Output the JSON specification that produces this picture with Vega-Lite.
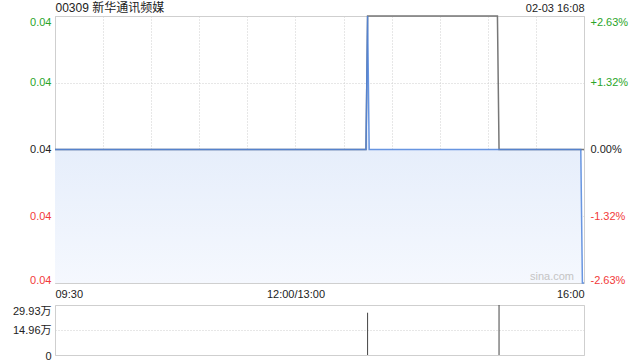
{
  "$schema": "https://vega.github.io/schema/vega-lite/v6.json",
  "padding": {"left": 11, "top": 0, "right": 0, "bottom": 0},
  "bounds": "flush",
  "spacing": 22,
  "background": "white",
  "config": {
    "font": "Liberation Sans, Noto Sans CJK SC",
    "view": {"stroke": "#cfcfcf", "strokeWidth": 1},
    "axis": {
      "labelFont": "Liberation Sans, Noto Sans CJK SC",
      "labelFontSize": 11,
      "labelColor": "#222222",
      "ticks": false,
      "domain": false,
      "title": null,
      "gridColor": "#cfcfcf",
      "gridDash": [1, 2],
      "gridWidth": 1,
      "labelOverlap": false,
      "labelFlush": false
    }
  },
  "vconcat": [
    {
      "width": 529,
      "height": 267,
      "data": {
        "values": [
          {"minute": 0, "price": 0.038, "avg": 0.038},
          {"minute": 194, "price": 0.038, "avg": 0.038},
          {"minute": 195, "price": 0.039, "avg": 0.039},
          {"minute": 196, "price": 0.038, "avg": 0.039},
          {"minute": 276, "price": 0.038, "avg": 0.039},
          {"minute": 277, "price": 0.038, "avg": 0.038},
          {"minute": 328, "price": 0.038, "avg": 0.038},
          {"minute": 329, "price": 0.037, "avg": 0.038},
          {"minute": 330, "price": 0.037, "avg": 0.038}
        ]
      },
      "resolve": {"axis": {"x": "independent", "y": "independent"}},
      "layer": [
        {
          "mark": {
            "type": "area",
            "color": {
              "gradient": "linear",
              "x1": 0, "y1": 0, "x2": 0, "y2": 1,
              "stops": [
                {"offset": 0, "color": "#dbe6fa"},
                {"offset": 0.5, "color": "#e6eefb"},
                {"offset": 1, "color": "#f5f8fe"}
              ]
            }
          },
          "encoding": {
            "x": {
              "field": "minute", "type": "quantitative",
              "scale": {"domain": [0, 330], "nice": false, "zero": false},
              "axis": {
                "orient": "bottom",
                "values": [0, 30, 60, 90, 120, 150, 180, 210, 240, 270, 300, 330],
                "grid": true,
                "labelPadding": 5,
                "labelExpr": "datum.value == 0 ? '09:30' : datum.value == 150 ? '12:00/13:00' : datum.value == 330 ? '16:00' : ''",
                "labelAlign": {"condition": [{"test": "datum.value == 0", "value": "left"}, {"test": "datum.value == 330", "value": "right"}], "value": "center"}
              }
            },
            "y": {
              "field": "price", "type": "quantitative",
              "scale": {"domain": [0.037, 0.039], "nice": false, "zero": false},
              "axis": {
                "orient": "left",
                "values": [0.037, 0.0375, 0.038, 0.0385, 0.039],
                "format": ".2f",
                "grid": true,
                "labelPadding": 4,
                "labelColor": {"condition": [{"test": "datum.value > 0.03801", "value": "#2aa52a"}, {"test": "datum.value < 0.03799", "value": "#f23a3a"}], "value": "#222222"},
                "labelBaseline": {"condition": [{"test": "datum.value > 0.03899", "value": "top"}, {"test": "datum.value < 0.03701", "value": "alphabetic"}], "value": "middle"}
              }
            },
            "y2": {"datum": 0.037}
          }
        },
        {
          "mark": {"type": "line", "color": "#777777", "strokeWidth": 1.5},
          "encoding": {
            "x": {
              "field": "minute", "type": "quantitative",
              "scale": {"domain": [0, 330], "nice": false, "zero": false},
              "axis": {
                "orient": "top",
                "values": [330],
                "grid": false,
                "labelExpr": "'02-03 16:08'",
                "labelAlign": "right",
                "labelPadding": 3,
                "title": "00309 新华通讯频媒",
                "titleFont": "Liberation Sans, Noto Sans CJK SC",
                "titleFontSize": 12,
                "titleFontWeight": "normal",
                "titleColor": "#222222",
                "titleAnchor": "start",
                "titleAlign": "left",
                "titleBaseline": "bottom",
                "titleX": 0,
                "titleY": -2
              }
            },
            "y": {
              "field": "avg", "type": "quantitative",
              "scale": {"domain": [0.037, 0.039], "nice": false, "zero": false},
              "axis": {
                "orient": "right",
                "values": [0.037, 0.0375, 0.038, 0.0385, 0.039],
                "grid": false,
                "labelPadding": 6,
                "labelExpr": "(datum.value > 0.03801 ? '+' : datum.value < 0.03799 ? '-' : '') + format(abs(datum.value / 0.038 - 1) * 100, '.2f') + '%'",
                "labelColor": {"condition": [{"test": "datum.value > 0.03801", "value": "#2aa52a"}, {"test": "datum.value < 0.03799", "value": "#f23a3a"}], "value": "#222222"},
                "labelBaseline": {"condition": [{"test": "datum.value > 0.03899", "value": "top"}, {"test": "datum.value < 0.03701", "value": "alphabetic"}], "value": "middle"}
              }
            }
          }
        },
        {
          "mark": {"type": "line", "color": "#4f84dc", "strokeWidth": 1.5, "opacity": 0.85},
          "encoding": {
            "x": {"field": "minute", "type": "quantitative", "scale": {"domain": [0, 330], "nice": false, "zero": false}, "axis": null},
            "y": {"field": "price", "type": "quantitative", "scale": {"domain": [0.037, 0.039], "nice": false, "zero": false}, "axis": null}
          }
        },
        {
          "data": {"values": [{"label": "sina.com"}]},
          "mark": {"type": "text", "align": "right", "baseline": "bottom", "dx": -10, "dy": -1, "color": "#c4c4c4", "fontSize": 11, "font": "Liberation Sans"},
          "encoding": {
            "x": {"datum": 330, "type": "quantitative", "scale": {"domain": [0, 330], "nice": false, "zero": false}, "axis": null},
            "y": {"datum": 0.037, "type": "quantitative", "scale": {"domain": [0.037, 0.039], "nice": false, "zero": false}, "axis": null},
            "text": {"field": "label"}
          }
        }
      ]
    },
    {
      "width": 529,
      "height": 50,
      "data": {
        "values": [
          {"minute": 195, "volume": 253000},
          {"minute": 277, "volume": 299280}
        ]
      },
      "mark": {"type": "rule", "color": "#444444", "strokeWidth": 1},
      "encoding": {
        "x": {"field": "minute", "type": "quantitative", "scale": {"domain": [0, 330], "nice": false, "zero": false}, "axis": null},
        "y": {
          "field": "volume", "type": "quantitative",
          "scale": {"domain": [0, 299280], "nice": false},
          "axis": {
            "orient": "left",
            "values": [0, 149640, 299280],
            "grid": true,
            "labelPadding": 4,
            "labelExpr": "datum.value == 0 ? '0' : format(datum.value / 10000, '.2f') + '万'",
            "labelBaseline": {"condition": [{"test": "datum.value > 299000", "value": "top"}, {"test": "datum.value == 0", "value": "alphabetic"}], "value": "middle"},
            "labelOffset": {"condition": [{"test": "datum.value == 0", "value": 4}], "value": 0}
          }
        },
        "y2": {"datum": 0}
      }
    }
  ]
}
